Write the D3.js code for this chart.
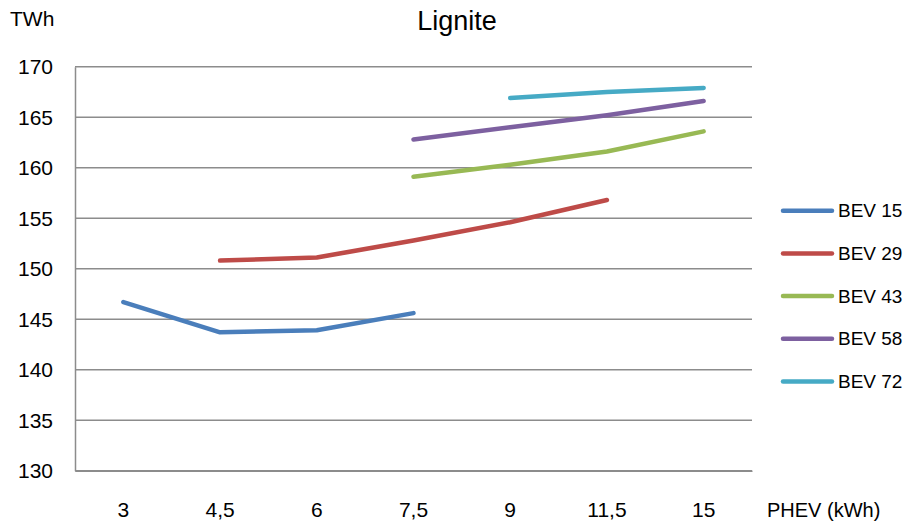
<!DOCTYPE html>
<html>
<head>
<meta charset="utf-8">
<script src="https://cdn.jsdelivr.net/npm/d3@7"></script>
<style>
  html, body { margin: 0; padding: 0; background: #fff; }
  svg text { font-family: "Liberation Sans", Arial, sans-serif; fill: #000; }
</style>
</head>
<body>
<svg id="chart" width="907" height="523"></svg>
<script>
const categories = ["3", "4,5", "6", "7,5", "9", "11,5", "15"];
const seriesNames = ["BEV 15", "BEV 29", "BEV 43", "BEV 58", "BEV 72"];
const bev15 = [146.7, 143.7, 143.9, 145.6, null, null, null];
const bev29 = [null, 150.8, 151.1, 152.8, 154.6, 156.8, null];
const bev43 = [null, null, null, 159.1, 160.3, 161.6, 163.6];
const bev58 = [null, null, null, 162.8, 164.0, 165.2, 166.6];
const bev72 = [null, null, null, null, 166.9, 167.5, 167.9];
const yTicks = [130, 135, 140, 145, 150, 155, 160, 165, 170];
const colors = ["#4a7ebb", "#be4b48", "#98b954", "#7d60a0", "#46aac5"];
const seriesValues = [bev15, bev29, bev43, bev58, bev72];

const svg = d3.select("#chart");
const pL = 75, pR = 752, pT = 66.7, pB = 470.7;

const x = d3.scaleBand().domain(categories).range([pL, pR]);
const y = d3.scaleLinear().domain([130, 170]).range([pB, pT]);

// gridlines
svg.append("g").selectAll("line").data(yTicks).join("line")
  .attr("x1", pL).attr("x2", pR)
  .attr("y1", d => y(d)).attr("y2", d => y(d))
  .attr("stroke", "#8c8c8c").attr("stroke-width", 1.5);

// y axis
const yAxis = svg.append("g").attr("transform", `translate(${pL},0)`)
  .call(d3.axisLeft(y).tickValues(yTicks).tickSize(0).tickPadding(22).tickFormat(d3.format("d")));
yAxis.select(".domain").attr("stroke", "#8c8c8c").attr("stroke-width", 1.5);
yAxis.selectAll("text").attr("font-size", 21).attr("font-family", "Liberation Sans, Arial, sans-serif").attr("dy", "0.33em").attr("fill", "#000");

// x axis
const xAxis = svg.append("g").attr("transform", `translate(0,${pB})`)
  .call(d3.axisBottom(x).tickSize(0).tickPadding(31));
xAxis.select(".domain").attr("stroke", "#8c8c8c").attr("stroke-width", 1.5);
xAxis.selectAll("text").attr("font-size", 21).attr("font-family", "Liberation Sans, Arial, sans-serif").attr("fill", "#000");

// lines
const line = d3.line()
  .defined(d => d != null)
  .x((d, i) => x(categories[i]) + x.bandwidth() / 2)
  .y(d => y(d));

seriesValues.forEach((vals, k) => {
  svg.append("path")
    .attr("d", line(vals))
    .attr("fill", "none")
    .attr("stroke", colors[k])
    .attr("stroke-width", 4.5)
    .attr("stroke-linecap", "round")
    .attr("stroke-linejoin", "round");
});

// title & axis titles
svg.append("text").attr("x", 457).attr("y", 30).attr("text-anchor", "middle")
  .attr("font-size", 27).text("Lignite");
svg.append("text").attr("x", 10).attr("y", 26).attr("font-size", 21).text("TWh");
svg.append("text").attr("x", 767).attr("y", 517).attr("font-size", 20).text("PHEV (kWh)");

// legend
const legend = svg.append("g");
seriesNames.forEach((name, k) => {
  const ly = 210.7 + k * 42.7;
  legend.append("line").attr("x1", 783).attr("x2", 832).attr("y1", ly).attr("y2", ly)
    .attr("stroke", colors[k]).attr("stroke-width", 4.5).attr("stroke-linecap", "round");
  legend.append("text").attr("x", 838).attr("y", ly).attr("dy", "0.35em")
    .attr("font-size", 19).text(name);
});
</script>
</body>
</html>
